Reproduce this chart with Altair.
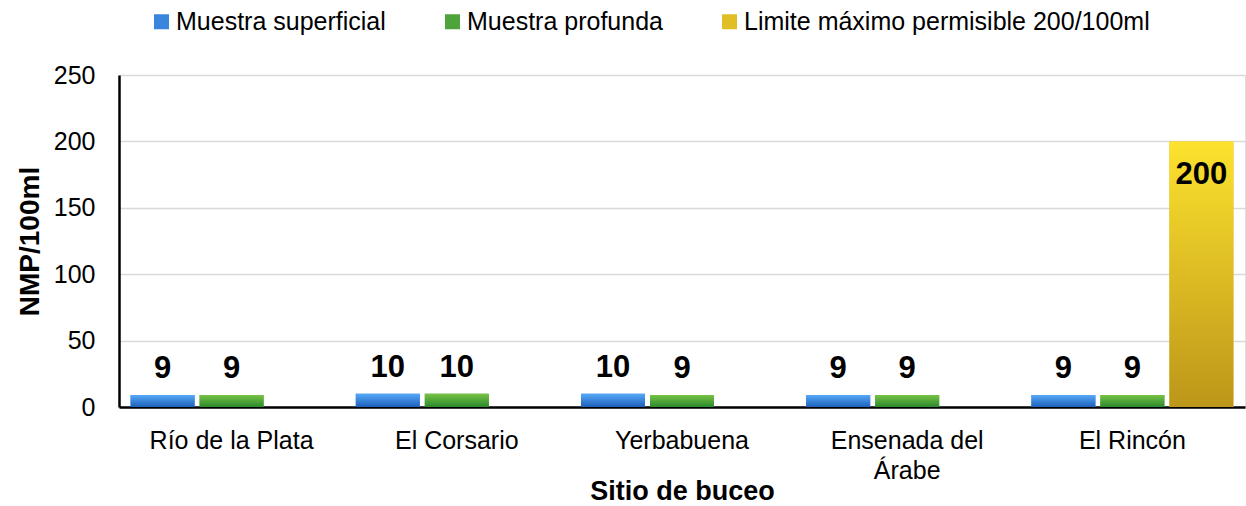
import altair as alt
import pandas as pd

# Sites and counts (NMP/100ml)
sites = ["Río de la Plata", "El Corsario", "Yerbabuena", "Ensenada del Árabe", "El Rincón"]
superficial = [9, 10, 10, 9, 9]
profunda = [9, 10, 9, 9, 9]
limite_site = "El Rincón"
limite_value = 200

series = ["Muestra superficial", "Muestra profunda", "Limite máximo permisible 200/100ml"]
solid_colors = ["#3a86de", "#4ea43a", "#dfbf25"]
gradient_stops = [
    ("#55a9f8", "#1d60bb"),
    ("#78c245", "#2a8a2c"),
    ("#fde22e", "#bc9619"),
]

rows = []
for s, v in zip(sites, superficial):
    rows.append({"sitio": s, "serie": series[0], "valor": v})
for s, v in zip(sites, profunda):
    rows.append({"sitio": s, "serie": series[1], "valor": v})
rows.append({"sitio": limite_site, "serie": series[2], "valor": limite_value})
df = pd.DataFrame(rows)

FONT = "Liberation Sans"

x_enc = alt.X(
    "sitio:N",
    sort=sites,
    scale=alt.Scale(paddingInner=0, paddingOuter=0),
    axis=alt.Axis(
        title="Sitio de buceo",
        labelAngle=0,
        labelFont=FONT,
        labelFontSize=25,
        labelColor="#000000",
        labelPadding=21,
        labelLineHeight=30,
        labelExpr="datum.value == 'Ensenada del Árabe' ? ['Ensenada del', 'Árabe'] : datum.value",
        ticks=False,
        domainColor="#000000",
        domainWidth=2.5,
        titleFont=FONT,
        titleFontSize=27,
        titleFontWeight="bold",
        titleColor="#000000",
        titleBaseline="alphabetic",
        titleY=92,
    ),
)
xoff_enc = alt.XOffset(
    "serie:N",
    sort=series,
    scale=alt.Scale(domain=series, paddingInner=0.0725, paddingOuter=0.168),
)
y_enc = alt.Y(
    "valor:Q",
    scale=alt.Scale(domain=[0, 250], nice=False),
    axis=alt.Axis(
        title="NMP/100ml",
        values=[0, 50, 100, 150, 200, 250],
        labelFont=FONT,
        labelFontSize=25,
        labelColor="#000000",
        labelPadding=24,
        ticks=False,
        domainColor="#000000",
        domainWidth=2.5,
        gridColor="#d9d9d9",
        gridWidth=1.5,
        titleFont=FONT,
        titleFontSize=28,
        titleFontWeight="bold",
        titleColor="#000000",
        titleBaseline="alphabetic",
        titleX=-81,
    ),
)

base = alt.Chart(df)

# Solid bars carry the colour legend
legend_bars = base.mark_bar().encode(
    x=x_enc,
    xOffset=xoff_enc,
    y=y_enc,
    color=alt.Color(
        "serie:N",
        sort=series,
        scale=alt.Scale(domain=series, range=solid_colors),
        legend=alt.Legend(
            title=None,
            orient="none",
            legendX=30,
            legendY=-66,
            direction="horizontal",
            symbolType="square",
            symbolSize=225,
            symbolStrokeWidth=0,
            labelFont=FONT,
            labelFontSize=25,
            labelColor="#000000",
            labelOffset=2,
            labelLimit=600,
            columnPadding=54,
        ),
    ),
)

# Gradient-filled bars drawn over the solid ones
gradient_layers = []
for name, (top, bottom) in zip(series, gradient_stops):
    grad = alt.LinearGradient(
        gradient="linear",
        stops=[alt.GradientStop(color=top, offset=0), alt.GradientStop(color=bottom, offset=1)],
        x1=0, x2=0, y1=0, y2=1,
    )
    gradient_layers.append(
        base.transform_filter(alt.datum.serie == name)
        .mark_bar(color=grad)
        .encode(x=x_enc, xOffset=xoff_enc, y=y_enc)
    )

label_font = dict(font=FONT, fontSize=31, fontWeight="bold", color="#000000", baseline="alphabetic")

labels_small = (
    base.transform_filter(alt.datum.valor < 100)
    .mark_text(dy=-17, **label_font)
    .encode(x=x_enc, xOffset=xoff_enc, y=y_enc, text=alt.Text("valor:Q"))
)
labels_large = (
    base.transform_filter(alt.datum.valor >= 100)
    .mark_text(dy=43, **label_font)
    .encode(x=x_enc, xOffset=xoff_enc, y=y_enc, text=alt.Text("valor:Q"))
)

chart = (
    alt.layer(legend_bars, *gradient_layers, labels_small, labels_large)
    .properties(
        width=1126,
        height=332,
        autosize=alt.AutoSizeParams(type="none"),
        padding={"left": 119, "top": 75, "right": 1, "bottom": 99},
    )
    .configure_view(stroke=None)
    .configure(background="#ffffff")
)

chart.save("out.html", embed_options={"renderer": "svg", "actions": False})
